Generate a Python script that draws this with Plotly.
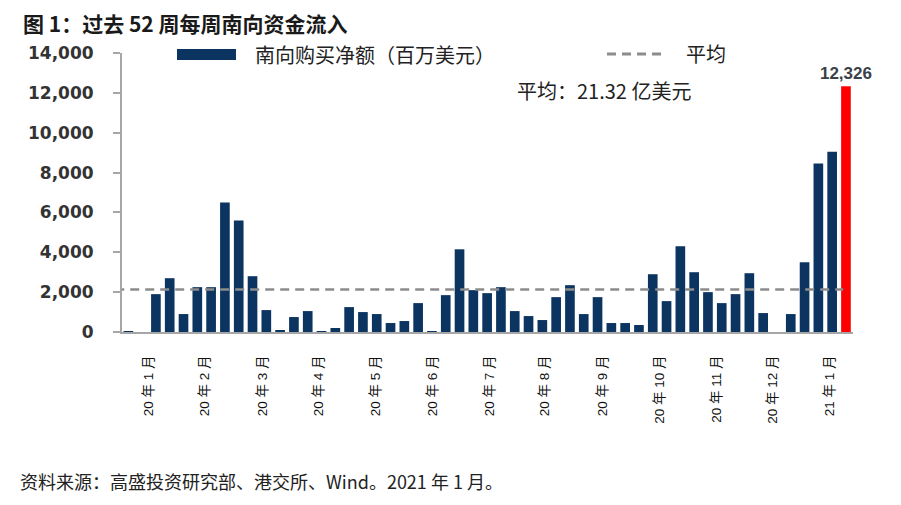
import plotly.graph_objects as go

# ---- data ----
weeks = list(range(53))
net_buy = [50, 0, 1900, 2700, 900, 2250, 2250, 6500, 5600, 2800,
           1100, 100, 750, 1050, 50, 200, 1250, 1000, 900, 450,
           550, 1450, 50, 1850, 4150, 2100, 1950, 2250, 1050, 800,
           600, 1750, 2350, 900, 1750, 450, 450, 350, 2900, 1550,
           4300, 3000, 2000, 1450, 1900, 2950, 950, 0, 900, 3500,
           8450, 9050, 12326]
average = 2132
tick_labels = ["20 年 1 月", "20 年 2 月", "20 年 3 月", "20 年 4 月", "20 年 5 月",
               "20 年 6 月", "20 年 7 月", "20 年 8 月", "20 年 9 月", "20 年 10 月",
               "20 年 11 月", "20 年 12 月", "21 年 1 月"]
tick_pos = [1.45, 5.56, 9.7, 13.8, 17.9, 22.05, 26.2, 30.2, 34.4, 38.5, 42.6, 46.7, 50.8]
y_ticks = [0, 2000, 4000, 6000, 8000, 10000, 12000, 14000]

NAVY = "#0B3461"
RED = "#FF0000"
GRAY = "#8C8C8C"

OFF = 8  # page body margin
W, H = 901, 505
L, T = 122 - OFF, 53 - OFF
R = W - (853 - OFF)
B = H - (332 - OFF)
PW, PH = W - L - R, H - T - B


def px(x):
    return (x - OFF - L) / PW


def py(y):
    return (H - B - (y - OFF)) / PH


colors = [NAVY] * (len(net_buy) - 1) + [RED]
labels = [""] * (len(net_buy) - 1) + [f"{net_buy[-1]:,}"]

fig = go.Figure()
fig.add_trace(go.Bar(
    x=weeks, y=net_buy, width=0.7, marker=dict(color=colors, line=dict(width=0)),
    text=labels, textposition="outside", cliponaxis=False, constraintext="none",
    textfont=dict(family="Liberation Sans", size=17, color="#3A3F4A", weight="bold"),
    name="南向购买净额（百万美元）", showlegend=False,
))
fig.add_trace(go.Scatter(
    x=[-0.95, weeks[-1] - 0.2], y=[average, average], mode="lines", cliponaxis=False,
    line=dict(color=GRAY, width=2.5, dash="9px,6px"), name="平均", showlegend=False,
))

cjk = "Noto Sans CJK SC"
annotations = [
    dict(text="<b>图 1：过去 52 周每周南向资金流入</b>", x=px(21), y=py(22.5), xanchor="left",
         yanchor="middle", font=dict(family=cjk, size=21, color="#1a1a1a")),
    dict(text="南向购买净额（百万美元）", x=px(253), y=py(55), xanchor="left", yanchor="middle",
         font=dict(family=cjk, size=20, color="#222222")),
    dict(text="平均", x=px(684), y=py(53), xanchor="left", yanchor="middle",
         font=dict(family=cjk, size=20, color="#222222")),
    dict(text="平均：21.32 亿美元", x=px(515), y=py(91), xanchor="left", yanchor="middle",
         font=dict(family=cjk, size=20, color="#222222")),
    dict(text="资料来源：高盛投资研究部、港交所、Wind。2021 年 1 月。", x=px(18), y=py(481),
         xanchor="left", yanchor="middle", font=dict(family=cjk, size=18, color="#222222")),
]
for a in annotations:
    a.update(xref="paper", yref="paper", showarrow=False)

shapes = [
    dict(type="rect", xref="paper", yref="paper", x0=px(177), x1=px(236), y0=py(60), y1=py(49),
         fillcolor=NAVY, line=dict(width=0)),
    dict(type="line", xref="paper", yref="paper", x0=px(607), x1=px(661), y0=py(54), y1=py(54),
         line=dict(color=GRAY, width=3, dash="9px,6px")),
]

fig.update_layout(
    width=W, height=H, margin=dict(l=L, r=R, t=T, b=B, autoexpand=False),
    paper_bgcolor="white", plot_bgcolor="white",
    bargap=0.3, showlegend=False,
    annotations=annotations, shapes=shapes,
    xaxis=dict(range=[-0.457, 52.51], tickmode="array", tickvals=tick_pos, ticktext=tick_labels,
               tickangle=-90, ticks="", showgrid=False, zeroline=False,
               showline=True, linecolor="#A6A6A6", linewidth=2, ticklabelstandoff=16,
               tickfont=dict(family="Liberation Sans, Noto Sans CJK SC", size=13.5, color="#111111")),
    yaxis=dict(range=[0, 14000], tickmode="array", tickvals=y_ticks,
               ticktext=[f"{v:,}" for v in y_ticks], ticks="outside", ticklen=7,
               tickcolor="#A6A6A6", tickwidth=2, showgrid=False, zeroline=False,
               showline=True, linecolor="#A6A6A6", linewidth=2, ticklabelstandoff=16,
               tickfont=dict(family="DejaVu Sans", size=17, color="#333333", weight="bold")),
)

fig.write_html("out.html")
